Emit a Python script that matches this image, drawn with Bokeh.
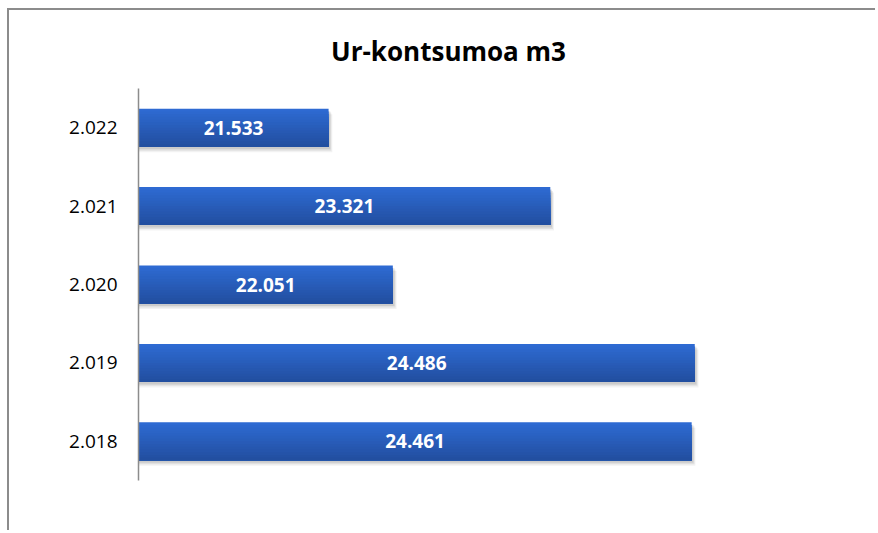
from bokeh.plotting import figure
from bokeh.models import FactorRange, Range1d, ColumnDataSource, Title
from bokeh.transform import dodge
from bokeh.core.properties import value
from bokeh.embed import file_html
from bokeh.resources import INLINE

# ---- data ----
years = [2018, 2019, 2020, 2021, 2022]
consumption = [24461, 24486, 22051, 23321, 21533]
title_text = "Ur-kontsumoa m3"
x_start, x_end = 20000, 25000

def dotted(v):
    return f"{v:,}".replace(",", ".")

year_labels = [dotted(y) for y in years]
value_labels = [dotted(v) for v in consumption]

src = ColumnDataSource(dict(
    year=year_labels,
    val=consumption,
    mid=[(x_start + v) / 2 for v in consumption],
    lab=value_labels,
))

FONT = "Open Sans"

p = figure(
    width=868, height=522,
    y_range=FactorRange(factors=year_labels),
    x_range=Range1d(x_start, x_end),
    output_backend="svg", toolbar_location=None,
    min_border_left=129, min_border_right=119,
    min_border_top=78, min_border_bottom=52,
    background_fill_color="white", border_fill_color="white",
)
p.styles = {"border-left": "2px solid #8c8c8c", "border-top": "2px solid #8c8c8c",
            "margin-left": "7px", "margin-top": "8px"}
p.outline_line_color = None
p.xgrid.visible = False
p.ygrid.visible = False
p.xaxis.visible = False

p.add_layout(Title(text=title_text, align="center", text_font=FONT,
                   text_font_size="26px", text_font_style="bold",
                   text_color="#000000", standoff=40), "above")

bar_h = 0.485
# soft shadow (a few faint layers just below/right of each bar)
for dy, ext, a in [(-0.070, 30, 0.05), (-0.050, 22, 0.07), (-0.032, 14, 0.09)]:
    sh = ColumnDataSource(dict(year=year_labels, r=[v + ext for v in consumption]))
    p.hbar(y=dodge("year", dy, range=p.y_range), left=x_start, right="r",
           height=bar_h, source=sh, fill_color="#000000", fill_alpha=a,
           line_color=None)

# vertical gradient: overlapping strips, each reaching down to the bar bottom
n = 14
top = (46, 106, 210)
bot = (34, 79, 160)
for i in range(n):
    t = i / (n - 1)
    c = tuple(int(round(top[j] + (bot[j] - top[j]) * t)) for j in range(3))
    strip_top = bar_h / 2 - i * bar_h / n
    strip_bot = -bar_h / 2
    p.hbar(y=dodge("year", (strip_top + strip_bot) / 2, range=p.y_range),
           left=x_start, right="val", height=strip_top - strip_bot, source=src,
           fill_color="#%02x%02x%02x" % c, line_color=None)

p.text(x="mid", y="year", text="lab", source=src, text_color="white",
       text_font=value(FONT), text_font_size="19px", text_font_style="bold",
       text_align="center", text_baseline="middle")

p.yaxis.axis_line_color = "#8c8c8c"
p.yaxis.axis_line_width = 1.5
p.yaxis.major_tick_line_color = None
p.yaxis.minor_tick_line_color = None
p.yaxis.major_label_text_font = FONT
p.yaxis.major_label_text_font_size = "19px"
p.yaxis.major_label_text_color = "#000000"
p.yaxis.major_label_standoff = 15

open("out.html", "w").write(file_html(p, INLINE))
